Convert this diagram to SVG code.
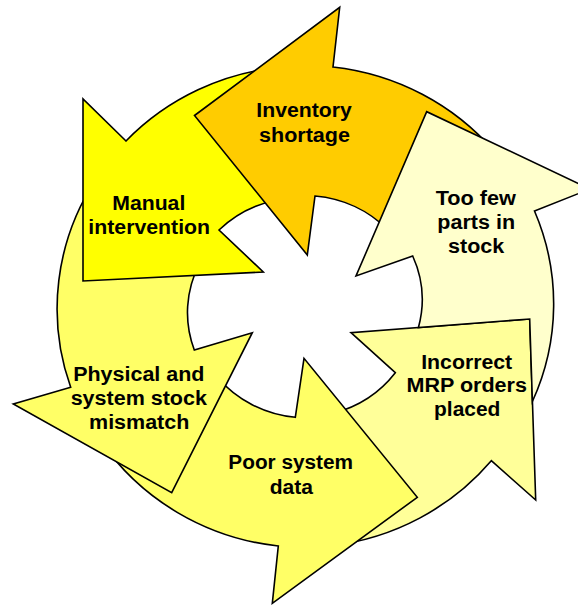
<svg xmlns="http://www.w3.org/2000/svg" width="578" height="605" viewBox="0 0 578 605">
<style>
.a{stroke:#000;stroke-width:1.6;stroke-linejoin:miter;stroke-miterlimit:10}
.t{font-family:"Liberation Sans",Arial,Helvetica,sans-serif;font-weight:bold;font-size:20px;fill:#000;text-anchor:middle}
</style>
<rect width="578" height="605" fill="#fff"/>
<g id="connectors"></g>
<g id="incorrect-mrp">
<path class="a" fill="#FFFF99" d="M491.3,460.7 L535.7,500 L529.7,319 L351,332.7 L395.3,372.7 A115 110 0 0 1 333.3,413.2 L331.3,545.7 A247 240.5 0 0 0 491.3,460.7 Z"/>
<text class="t" x="466.7" y="368.5" textLength="91" lengthAdjust="spacingAndGlyphs">Incorrect</text>
<text class="t" x="466.7" y="392" textLength="120.5" lengthAdjust="spacingAndGlyphs">MRP orders</text>
<text class="t" x="467.2" y="416" textLength="66.3" lengthAdjust="spacingAndGlyphs">placed</text>
</g>
<g id="poor-system-data">
<path class="a" fill="#FFFF66" d="M278.3,546 L272.3,603.3 L417.3,497.3 L304,358.3 L295.3,417.3 A115 110 0 0 1 217.4,377.2 L100.7,441 A247 240.5 0 0 0 278.3,546 Z"/>
<text class="t" x="290.7" y="469" textLength="124.7" lengthAdjust="spacingAndGlyphs">Poor system</text>
<text class="t" x="291.3" y="494" textLength="43.3" lengthAdjust="spacingAndGlyphs">data</text>
</g>
<g id="physical-mismatch">
<path class="a" fill="#FFFF66" d="M70.7,387.3 L13.3,404 L171.7,492.7 L252.3,332.7 L194.3,350 A115 110 0 0 1 199.6,263.5 L96,179.1 A247 240.5 0 0 0 70.7,387.3 Z"/>
<text class="t" x="138.8" y="380.7" textLength="131.3" lengthAdjust="spacingAndGlyphs">Physical and</text>
<text class="t" x="138.8" y="405" textLength="136.3" lengthAdjust="spacingAndGlyphs">system stock</text>
<text class="t" x="139.2" y="429.3" textLength="100.3" lengthAdjust="spacingAndGlyphs">mismatch</text>
</g>
<g id="manual-intervention">
<path class="a" fill="#FFFF00" d="M126,141 L83,99 L83,281 L263.3,272 L219,230 A115 110 0 0 1 275.7,200.2 L284,66.9 A247 240.5 0 0 0 126,141 Z"/>
<text class="t" x="148.8" y="209.5" textLength="73" lengthAdjust="spacingAndGlyphs">Manual</text>
<text class="t" x="149.2" y="233.5" textLength="121.7" lengthAdjust="spacingAndGlyphs">intervention</text>
</g>
<g id="inventory-shortage">
<path class="a" fill="#FFCC00" d="M333,67 L339.7,7.3 L194.5,115.5 L307.3,255 L315,196 A115 110 0 0 1 388.2,230.1 L494.7,151.9 A247 240.5 0 0 0 333,67 Z"/>
<text class="t" x="304" y="117" textLength="95.4" lengthAdjust="spacingAndGlyphs">Inventory</text>
<text class="t" x="304.5" y="141.5" textLength="91" lengthAdjust="spacingAndGlyphs">shortage</text>
</g>
<g id="too-few-parts">
<path class="a" fill="#FFFFCC" d="M534.5,211 L590,189 L426.7,111.7 L356,276 L412.7,256 A115 110 0 0 1 418.4,327.6 L529.7,319 L532.4,401.5 A247 240.5 0 0 0 534.5,211 Z"/>
<text class="t" x="475.8" y="204.5" textLength="80.3" lengthAdjust="spacingAndGlyphs">Too few</text>
<text class="t" x="476.2" y="228.5" textLength="77.7" lengthAdjust="spacingAndGlyphs">parts in</text>
<text class="t" x="476.2" y="253.3" textLength="56.3" lengthAdjust="spacingAndGlyphs">stock</text>
</g>
</svg>
